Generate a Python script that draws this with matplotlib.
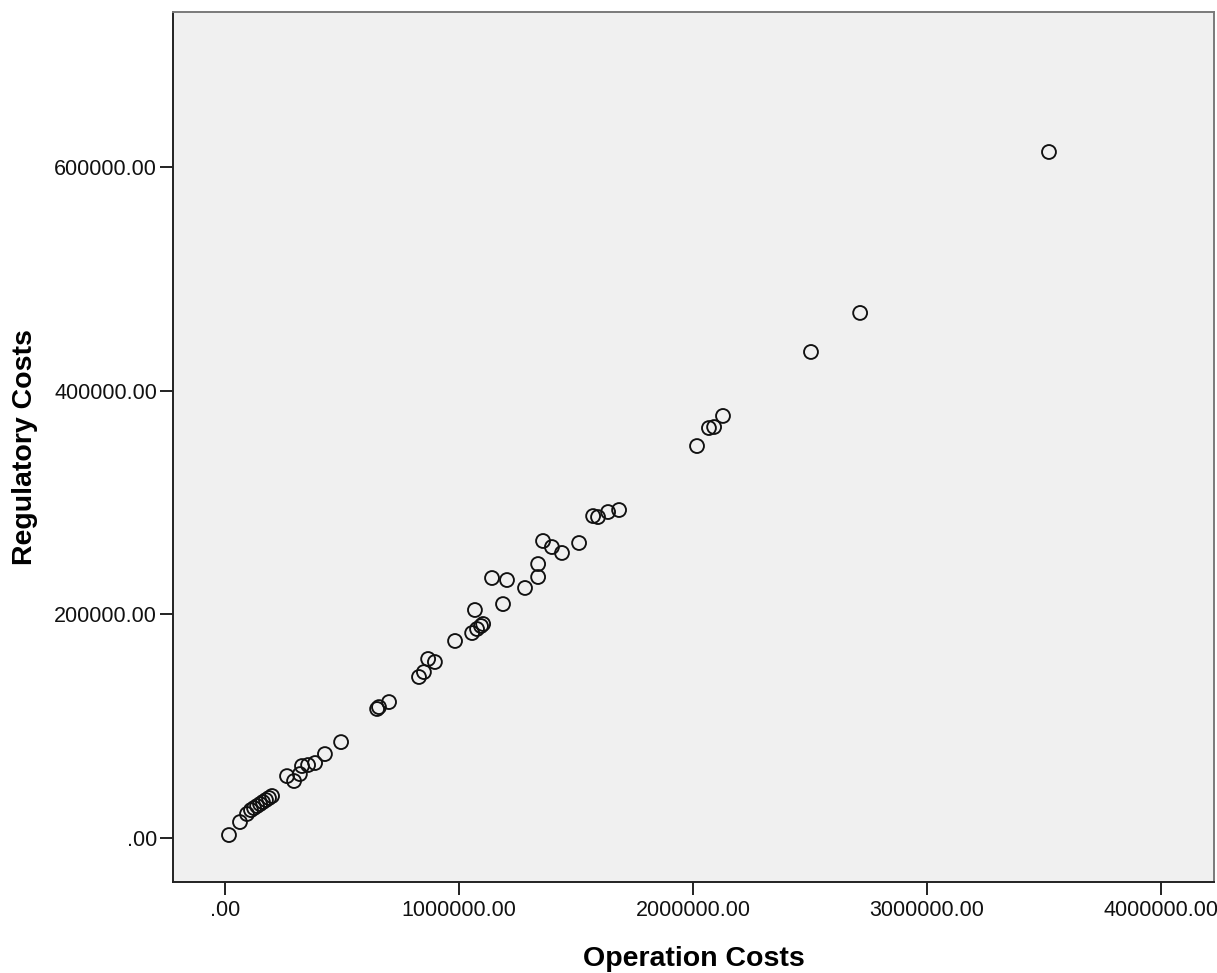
import matplotlib
matplotlib.use("Agg")
import matplotlib.pyplot as plt
from matplotlib.ticker import FuncFormatter

plt.rcParams['font.family'] = ['Liberation Sans', 'DejaVu Sans']

# Operation vs. regulatory costs per unit
operation_costs = [
    17000, 64000, 94000, 111000, 124000, 137000, 150000, 162000, 175000, 188000,
    201000, 265000, 295000, 320000, 329000, 355000, 385000, 427000, 496000, 650000,
    658000, 701000, 829000, 850000, 868000, 897000, 983000, 1056000, 1068000, 1077000,
    1094000, 1103000, 1141000, 1188000, 1205000, 1282000, 1338000, 1338000, 1359000, 1397000,
    1440000, 1513000, 1573000, 1594000, 1637000, 1684000, 2017000, 2068000, 2090000, 2128000,
    2504000, 2714000, 3521000,
]
regulatory_costs = [
    2700, 14300, 21500, 25000, 26800, 28600, 30400, 32200, 34000, 35800,
    37600, 55400, 51000, 57200, 64400, 65300, 67100, 75100, 85800, 115400,
    117100, 121600, 144000, 148400, 160100, 157400, 176200, 183300, 203900, 186900,
    189600, 191400, 232500, 209200, 230700, 223600, 233400, 245000, 265600, 260200,
    254900, 263800, 287900, 287000, 291500, 293300, 350500, 366600, 367500, 377400,
    434600, 469500, 613400,
]

x_ticks = [0, 1000000, 2000000, 3000000, 4000000]
y_ticks = [0, 200000, 400000, 600000]


def spss_fmt(v, _pos=None):
    s = f"{v:.2f}"
    return s[1:] if s.startswith("0.") else s


fig = plt.figure(figsize=(12.17, 9.73), dpi=100)
ax = fig.add_axes([0.1422, 0.0935, 0.8553, 0.8942])
ax.set_facecolor('#F0F0F0')

ax.scatter(operation_costs, regulatory_costs, s=100, facecolors='none',
           edgecolors='#111111', linewidths=1.35, zorder=3)

ax.set_xlim(-222000, 4226000)
ax.set_ylim(-39300, 738600)
ax.set_xticks(x_ticks)
ax.set_yticks(y_ticks)
ax.xaxis.set_major_formatter(FuncFormatter(spss_fmt))
ax.yaxis.set_major_formatter(FuncFormatter(spss_fmt))

ax.tick_params(axis='both', direction='out', length=9.5, width=1.4,
               labelsize=15.5, color='#222222', labelcolor='#111111')
ax.tick_params(axis='x', pad=3.5)
ax.tick_params(axis='y', pad=2)

for side in ['left', 'bottom']:
    ax.spines[side].set_color('#222222')
    ax.spines[side].set_linewidth(1.4)
for side in ['top', 'right']:
    ax.spines[side].set_color('#7a7a7a')
    ax.spines[side].set_linewidth(1.4)

ax.set_xlabel('Operation Costs', fontsize=20.5, fontweight='bold', labelpad=18)
ax.set_ylabel('Regulatory Costs', fontsize=20.5, fontweight='bold', labelpad=12)

fig.savefig('out.png', dpi=100)
